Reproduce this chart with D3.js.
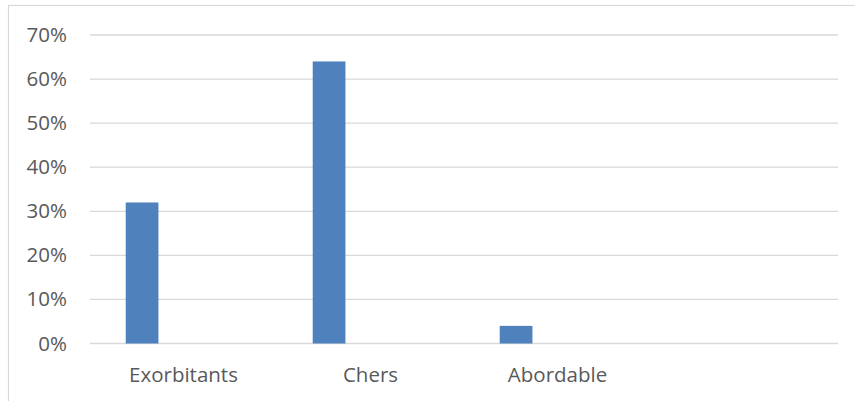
<!DOCTYPE html>
<html>
<head>
<meta charset="utf-8">
<script src="https://cdn.jsdelivr.net/npm/d3@7"></script>
<style>
  html, body { margin: 0; padding: 0; background: #fff; }
  svg { display: block; }
  text { font-family: "Open Sans", sans-serif; fill: #595959; }
</style>
</head>
<body>
<svg id="chart" width="855" height="401"></svg>
<script>
const categories = ["Exorbitants", "Chers", "Abordable", ""];
const values = [0.32, 0.64, 0.04, null];
const yTicks = [0, 0.1, 0.2, 0.3, 0.4, 0.5, 0.6, 0.7];

const W = 855, H = 401;
const svg = d3.select("#chart");

// chart area border
svg.append("rect")
  .attr("x", 8.5).attr("y", 5.5)
  .attr("width", W + 10).attr("height", H + 10)
  .attr("fill", "#fff").attr("stroke", "#d9d9d9").attr("stroke-width", 1.2);

const x = d3.scaleBand().domain(categories).range([90, 838]).paddingInner(0).paddingOuter(0);
const y = d3.scaleLinear().domain([0, 0.7]).range([343.5, 35]);

// gridlines
svg.append("g")
  .selectAll("line")
  .data(yTicks)
  .join("line")
  .attr("x1", 90).attr("x2", 838)
  .attr("y1", d => y(d)).attr("y2", d => y(d))
  .attr("stroke", "#d9d9d9").attr("stroke-width", 1.3);

// y axis labels
const fmt = d3.format(".0%");
const yAxis = d3.axisLeft(y).tickValues(yTicks).tickFormat(fmt).tickSize(0).tickPadding(23);
const gy = svg.append("g").attr("transform", "translate(90,0)").call(yAxis);
gy.select(".domain").remove();
gy.selectAll("text").style("font-size", "20.5px").attr("fill", "#595959").style("font-family", "'Open Sans', sans-serif");

// bars
const bw = x.bandwidth();
svg.append("g")
  .selectAll("rect")
  .data(categories.map((c, i) => ({c, v: values[i]})).filter(d => d.v != null))
  .join("rect")
  .attr("x", d => x(d.c) + bw * 0.191)
  .attr("width", bw * 0.175)
  .attr("y", d => y(d.v))
  .attr("height", d => y(0) - y(d.v))
  .attr("fill", "#4f81bd");

// x axis labels
const xAxis = d3.axisBottom(x).tickSize(0).tickPadding(24);
const gx = svg.append("g").attr("transform", `translate(0,${y(0)})`).call(xAxis);
gx.select(".domain").remove();
gx.selectAll("text").style("font-size", "20.5px").attr("fill", "#595959").style("font-family", "'Open Sans', sans-serif");
</script>
</body>
</html>
